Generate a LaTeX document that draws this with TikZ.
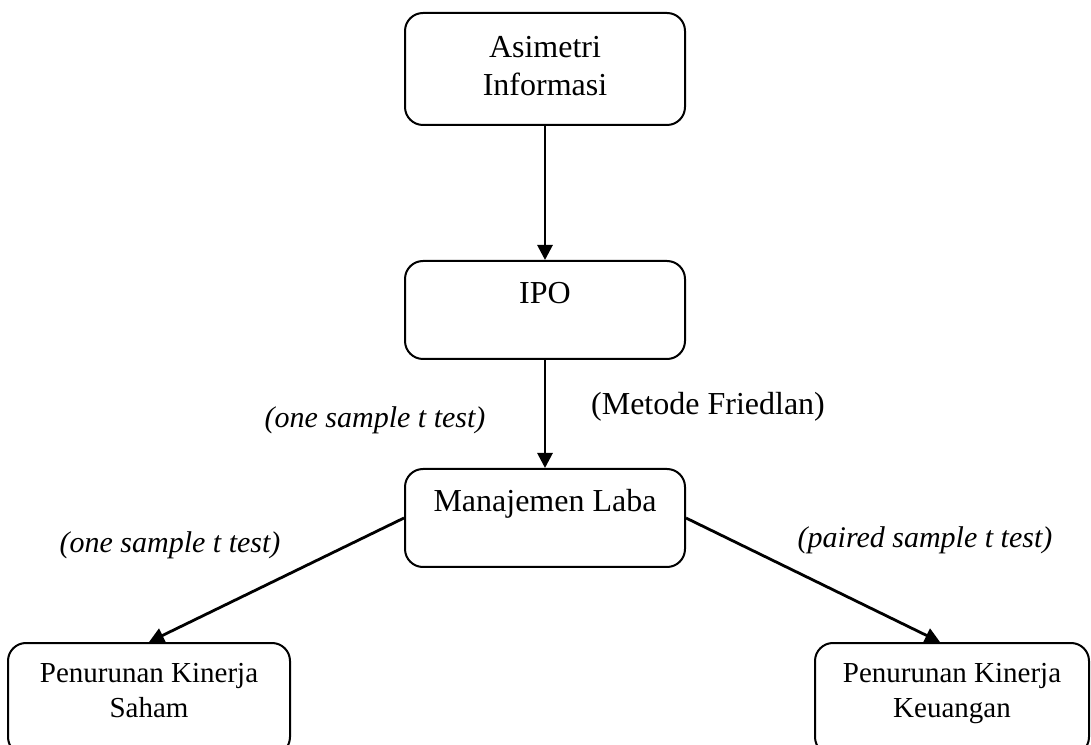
\documentclass[tikz,border=0pt]{standalone}
\usepackage{fontspec}
\setmainfont{Liberation Serif}
\usetikzlibrary{positioning}
\usetikzlibrary{arrows.meta}

\begin{document}
\begin{tikzpicture}[x=0.5pt, y=0.5pt,
    >={Triangle[width=7.5pt,length=7.5pt]},
    box/.style = {shape=rectangle, draw, line width=1pt, rounded corners=9pt,
      align=center, minimum width=140pt, minimum height=56pt,
      font=\fontsize{16pt}{19pt}\selectfont},
    lowbox/.style = {box, minimum height=49pt, text height=12pt, text depth=18pt},
    endbox/.style = {box, text depth=9pt, font=\fontsize{14.5pt}{17.5pt}\selectfont},
    note/.style = {font=\fontsize{15pt}{18pt}\selectfont\itshape},
    method/.style = {font=\fontsize{16pt}{19pt}\selectfont},
    every edge/.style = {draw, line width=1.4pt}]
  \useasboundingbox (0,0) rectangle (1091,744);
  \node[box, text depth=3pt] (asim) at (545,675) {Asimetri\\Informasi};
  \node[lowbox] (ipo) [below=67pt of asim] {IPO} edge [<-] (asim);
  \node[lowbox] (laba) [below=54pt of ipo] {Manajemen Laba} edge [<-] (ipo);
  \node[endbox, minimum width=141pt] (saham) [below=37pt of laba, xshift=-198pt] {Penurunan Kinerja\\Saham};
  \node[endbox, minimum width=137pt] (keu) [below=37pt of laba, xshift=203.5pt] {Penurunan Kinerja\\Keuangan};
  \draw [<-, line width=1.4pt] (saham.north) -- (laba.west);
  \draw [<-, line width=1.4pt] ([xshift=-6pt]keu.north) -- (laba.east);
  % keterangan uji
  \node[note] (uji1) at (375,324) {(one sample t test)};
  \node[method] (friedlan) at (708,337) {(Metode Friedlan)};
  \node[note] (uji2) at (170,199) {(one sample t test)};
  \node[note] (uji3) at (925,204) {(paired sample t test)};
\end{tikzpicture}
\end{document}
